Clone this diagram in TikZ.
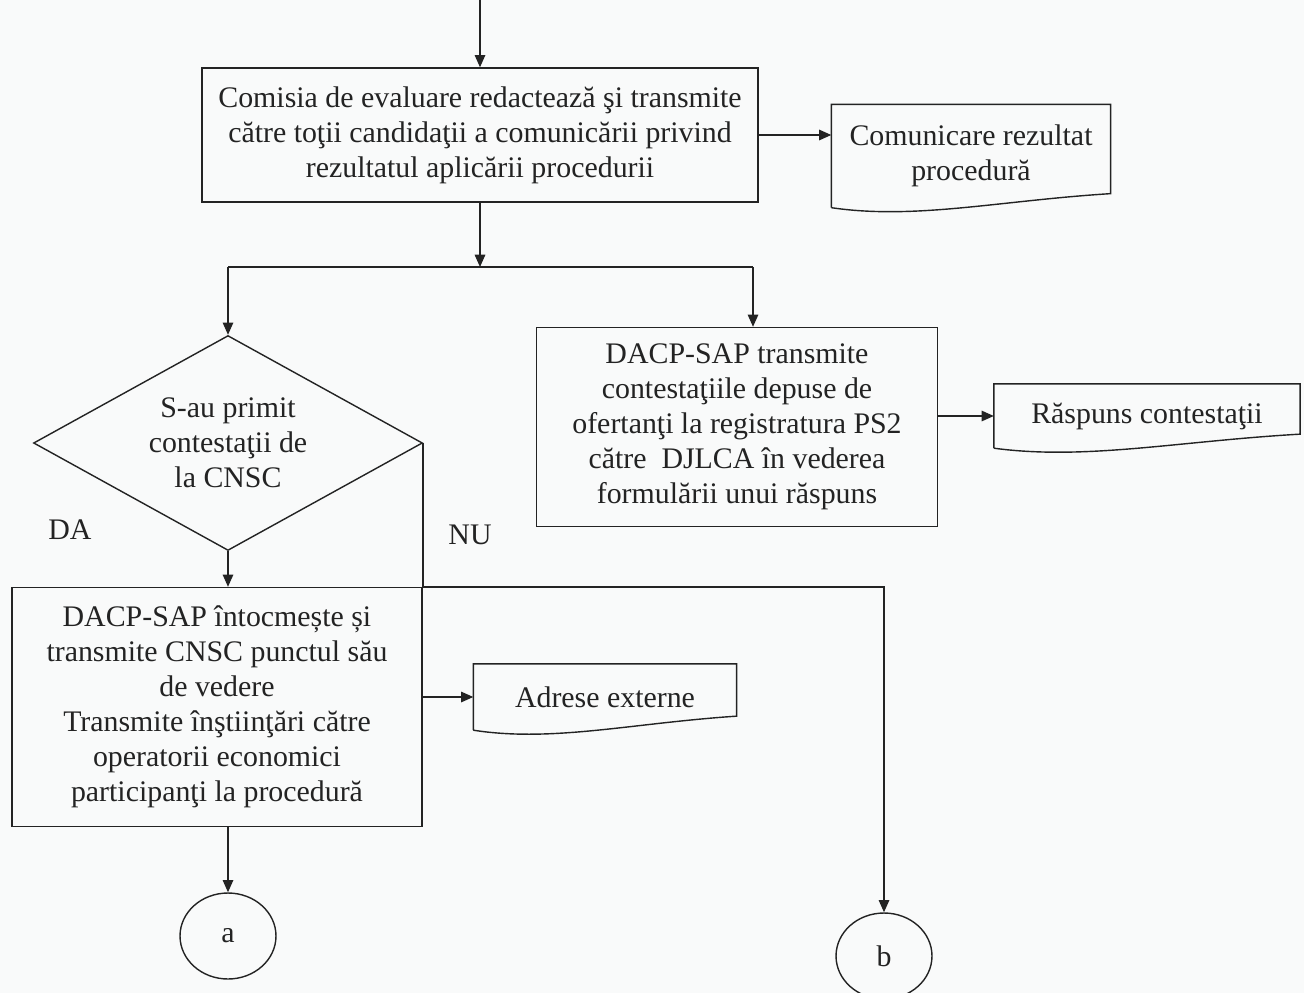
\documentclass[tikz,border=0pt]{standalone}
\usepackage{fontspec}
\setmainfont{Liberation Serif}
\usepackage{tikz}
\usetikzlibrary{arrows.meta,shapes.geometric,calc}

\definecolor{paper}{RGB}{249,250,250}
\definecolor{ink}{RGB}{35,35,35}

% document symbol: flat top, wavy bottom edge
\newcommand{\docoutline}[1]{%
  \draw (#1.south west) -- (#1.north west) -- (#1.north east) -- ([yshift=8pt]#1.south east)
    .. controls ($(#1.south west)!0.6!(#1.south east)+(0pt,4pt)$) and ($(#1.south west)!0.3!(#1.south east)+(0pt,-7pt)$) .. (#1.south west);}

\begin{document}
\begin{tikzpicture}[x=0.02cm,y=-0.02cm,
  >={Triangle[length=7pt,width=6pt]},
  line width=0.8pt, color=ink,
  every node/.style={align=center,font=\fontsize{17}{19.9}\selectfont},
  proc/.style={draw,rectangle,inner sep=2pt},
  docbox/.style={rectangle,inner sep=2pt},
  decide/.style={draw,diamond,aspect=1.8,inner sep=1pt},
  conn/.style={draw,ellipse,minimum width=1.92cm,minimum height=1.72cm,inner sep=0pt}
]
\useasboundingbox (0,0) rectangle (1304,993);
\fill[paper] (0,0) rectangle (1304,993);

% top part
\coordinate (start) at (480,0);
\node[proc,minimum width=11.12cm,minimum height=2.68cm] (comisia) at (480,135) {Comisia de evaluare redactează şi transmite\\către toţii candidaţii a comunicării privind\\rezultatul aplicării procedurii};
\node[docbox,minimum width=5.56cm,minimum height=2.04cm] (comrez) at (971,156) {Comunicare rezultat\\procedură};
\docoutline{comrez}

\coordinate (split) at (480,267);
\coordinate (splitL) at (228,267);
\coordinate (splitR) at (753,267);

% the two branches
\node[decide,minimum width=7.78cm,minimum height=4.3cm] (contest) at (228,443) {S-au primit\\contestaţii de\\la CNSC};
\node[proc,minimum width=8.02cm,minimum height=3.98cm] (transmite) at (737,427) {DACP-SAP transmite\\contestaţiile depuse de\\ofertanţi la registratura PS2\\către\ \ DJLCA în vederea\\formulării unui răspuns};
\node[docbox,minimum width=6.1cm,minimum height=1.26cm] (raspuns) at (1147,416) {Răspuns contestaţii};
\docoutline{raspuns}

\node (da) at (70,530) {DA};
\node (nu) at (470,535) {NU};

\node[proc,minimum width=8.2cm,minimum height=4.78cm] (intocmeste) at (217,707) {DACP-SAP întocmește și\\transmite CNSC punctul său\\de vedere\\Transmite înştiinţări către\\operatorii economici\\participanţi la procedură};
\node[docbox,minimum width=5.24cm,minimum height=1.3cm] (adrese) at (605,697) {Adrese externe};
\docoutline{adrese}

% page connectors
\node[conn] (ca) at (228,936) {a};
\node[conn] (cb) at (884,956) {b};

\draw[->] (start) -- (comisia.north);
\draw[->] (comisia.east) -- (comisia.east -| comrez.west);
\draw[->] (comisia.south) -- (split);
\draw (splitL) -- (splitR);
\draw[->] (splitL) -- (contest.north);
\draw[->] (splitR) -- (splitR |- transmite.north);
\draw[->] (transmite.east |- raspuns.west) -- (raspuns.west);
\draw[->] (contest.south) -- (contest.south |- intocmeste.north);
\draw[->] (intocmeste.east |- adrese.west) -- (adrese.west);
\draw[->] (ca.north |- intocmeste.south) -- (ca.north);
\draw[->] (contest.east) -- (contest.east |- intocmeste.north) -- (cb.north |- intocmeste.north) -- (cb.north);
\end{tikzpicture}
\end{document}
